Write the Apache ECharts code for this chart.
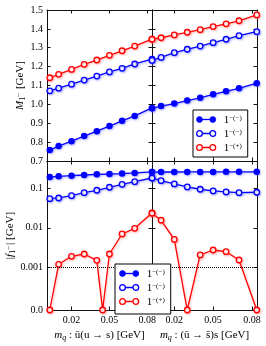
<!DOCTYPE html>
<html><head><meta charset="utf-8">
<script src="https://cdn.jsdelivr.net/npm/echarts@6/dist/echarts.min.js"></script>
<style>html,body{margin:0;padding:0;background:#fff}#c{width:266px;height:346px}</style>
</head><body><div id="c"></div>
<script>
// ---- data ----
const xVals = [0.0028, 0.0098, 0.02, 0.03, 0.04, 0.05, 0.06, 0.07, 0.0837];
const xValsPlusLeftBottom = [0.0028, 0.0098, 0.02, 0.03, 0.04, 0.0446, 0.05, 0.06, 0.07, 0.0837];
const xTicks = [0.02, 0.05, 0.08];
const massTicks = [0.7, 0.8, 0.9, 1.0, 1.1, 1.2, 1.3, 1.4, 1.5];

const mFilledL = [0.758, 0.779, 0.805, 0.832, 0.858, 0.885, 0.913, 0.939, 0.981];
const mOpenL   = [1.072, 1.086, 1.107, 1.129, 1.150, 1.172, 1.191, 1.214, 1.240];
const mPlusL   = [1.141, 1.159, 1.185, 1.212, 1.235, 1.260, 1.284, 1.309, 1.346];
const mFilledR = [0.979, 0.991, 1.004, 1.020, 1.035, 1.053, 1.069, 1.085, 1.112];
const mOpenR   = [1.233, 1.249, 1.274, 1.292, 1.309, 1.327, 1.345, 1.364, 1.385];
const mPlusR   = [1.345, 1.353, 1.368, 1.382, 1.396, 1.412, 1.427, 1.443, 1.474];

const fFilledL = [0.193, 0.201, 0.208, 0.217, 0.226, 0.230, 0.235, 0.244, 0.259];
const fOpenL   = [0.0546, 0.0568, 0.0650, 0.0774, 0.089, 0.106, 0.126, 0.147, 0.182];
const fPlusL   = [0, 0.00119, 0.0019, 0.00217, 0.0015, 0, 0.00217, 0.00697, 0.00971, 0.0237];
const fFilledR = [0.257, 0.258, 0.258, 0.259, 0.259, 0.259, 0.260, 0.260, 0.260];
const fOpenR   = [0.182, 0.156, 0.129, 0.108, 0.0944, 0.0855, 0.0806, 0.0774, 0.0792];
const fPlusR   = [0.0233, 0.0155, 0.00506, 0, 0.00205, 0.00274, 0.00248, 0.00153, 0];

const fTickVals = [0, 0.001, 0.01, 0.1];
const fTickLabels = ['0.0', '0.001', '0.01', '0.1'];
const refLine = [0.001];

// symlog transform (linear below threshold)
const LINTHRESH = 0.001, LINSPAN = 1.081;
function sym(v) { return v <= LINTHRESH ? v / LINTHRESH * LINSPAN : LINSPAN + Math.log10(v / LINTHRESH); }
const fMax = sym(0.49);

const FONT = 'Liberation Serif';
const BLUE = '#0000ff', RED = '#ff0000';
const xRangeL = [0.0006, 0.0837], xRangeR = [0.0028, 0.0839];

const grids = [
  {left: 47, top: 10, width: 105, height: 151},
  {left: 152, top: 10, width: 105, height: 151},
  {left: 47, top: 161, width: 105, height: 149},
  {left: 152, top: 161, width: 105, height: 149}
];

const axLine = {show: true, onZero: false, lineStyle: {color: '#111', width: 1}};
const tick = (vals) => Object.assign({show: true, inside: true, length: 3.5, lineStyle: {color: '#111', width: 1}}, vals ? {customValues: vals} : {});
const richBase = {
  i: {fontFamily: FONT, fontStyle: 'italic', fontSize: 11, color: '#000'},
  r: {fontFamily: FONT, fontSize: 11, color: '#000'},
  sub: {fontFamily: FONT, fontSize: 8, color: '#000', padding: [5, 0, 0, 0]},
  subi: {fontFamily: FONT, fontStyle: 'italic', fontSize: 8, color: '#000', padding: [5, 0, 0, 0]},
  subsup: {fontFamily: FONT, fontSize: 7, color: '#000', padding: [0, 1, 2, 0]}
};

function xAxisPair(grid, range, labels, name) {
  const main = {
    type: 'value', gridIndex: grid, min: range[0], max: range[1], position: 'bottom',
    axisLine: axLine, axisTick: tick(xTicks), splitLine: {show: false},
    axisLabel: labels ? {show: true, customValues: xTicks, margin: 5, fontFamily: FONT, fontSize: 10, color: '#000', formatter: v => v.toFixed(2)} : {show: false}
  };
  if (name) {
    main.name = name; main.nameLocation = 'middle'; main.nameGap = 19;
    main.nameTextStyle = {rich: richBase, fontFamily: FONT, fontSize: 11, color: '#000'};
  }
  const top = {type: 'value', gridIndex: grid, min: range[0], max: range[1], position: 'top',
    axisLine: axLine, axisTick: tick(xTicks), axisLabel: {show: false}, splitLine: {show: false}};
  return [main, top];
}

function yAxisPair(grid, kind, labels, name) {
  let base;
  if (kind === 'm') {
    base = {min: 0.7, max: 1.5, interval: 0.1};
  } else {
    base = {min: 0, max: fMax};
  }
  const tv = kind === 'f' ? fTickVals.map(sym) : null;
  const left = Object.assign({type: 'value', gridIndex: grid, position: 'left',
    axisLine: axLine, axisTick: tick(tv), splitLine: {show: false},
    axisLabel: labels ? Object.assign({show: true, margin: 4, fontFamily: FONT, fontSize: 10, color: '#000',
      formatter: kind === 'm' ? (v => v.toFixed(1)) : (v => { let k = tv.findIndex(t => Math.abs(t - v) < 1e-6); return k >= 0 ? fTickLabels[k] : ''; })},
      tv ? {customValues: tv} : {}) : {show: false}}, base);
  if (name) {
    left.name = name; left.nameLocation = 'middle'; left.nameGap = 20; left.nameRotate = 90;
    left.nameTextStyle = {rich: richBase, fontFamily: FONT, fontSize: 11, color: '#000'};
  }
  const right = Object.assign({type: 'value', gridIndex: grid, position: 'right',
    axisLine: axLine, axisTick: tick(tv), axisLabel: {show: false}, splitLine: {show: false}}, base);
  return [left, right];
}

const xAxes = [].concat(
  xAxisPair(0, xRangeL, false),
  xAxisPair(1, xRangeR, false),
  xAxisPair(2, xRangeL, true, '{i|m}{subi|q}{r| : ū(u → s) [GeV]}'),
  xAxisPair(3, xRangeR, true, '{i|m}{subi|q}{r| : (ū → s̄)s [GeV]}')
);
const yAxes = [].concat(
  yAxisPair(0, 'm', true, '{i|M}{sub|1}{subsup|−}{r| [GeV]}'),
  yAxisPair(1, 'm', false),
  yAxisPair(2, 'f', true, '{r||}{i|f}{sub|1}{subsup|−}{r|| [GeV]}'),
  yAxisPair(3, 'f', false)
);

function ser(name, xs, ys, grid, open, color, tf) {
  const shadow = color === BLUE ? 'rgba(90,90,255,0.45)' : 'rgba(255,90,90,0.4)';
  const s = {
    name: name, type: 'line', xAxisIndex: grid * 2, yAxisIndex: grid * 2,
    data: xs.map((x, i) => [x, tf ? tf(ys[i]) : ys[i]]),
    symbol: 'circle', symbolSize: open ? 5.5 : 6.5, clip: false,
    lineStyle: {color: color, width: 1.3, shadowColor: shadow, shadowBlur: 2, shadowOffsetX: 1, shadowOffsetY: 1},
    itemStyle: open ? {color: '#fff', borderColor: color, borderWidth: 1.3, shadowColor: shadow, shadowBlur: 2, shadowOffsetX: 1, shadowOffsetY: 1}
                    : {color: color, shadowColor: shadow, shadowBlur: 2, shadowOffsetX: 1, shadowOffsetY: 1},
    emphasis: {disabled: true}, animation: false, z: color === RED ? 3 : 2
  };
  return s;
}

const dotted = {silent: true, symbol: ['none', 'none'], label: {show: false},
  lineStyle: {type: 'dotted', color: '#000', width: 1, shadowBlur: 0, shadowColor: 'transparent'},
  data: refLine.map(v => ({yAxis: sym(v)})), animation: false};

const series = [
  ser('F', xVals, mFilledL, 0, false, BLUE),
  ser('O', xVals, mOpenL, 0, true, BLUE),
  ser('P', xVals, mPlusL, 0, true, RED),
  ser('F', xVals, mFilledR, 1, false, BLUE),
  ser('O', xVals, mOpenR, 1, true, BLUE),
  ser('P', xVals, mPlusR, 1, true, RED),
  ser('F', xVals, fFilledL, 2, false, BLUE, sym),
  ser('O', xVals, fOpenL, 2, true, BLUE, sym),
  ser('P', xValsPlusLeftBottom, fPlusL, 2, true, RED, sym),
  ser('F', xVals, fFilledR, 3, false, BLUE, sym),
  ser('O', xVals, fOpenR, 3, true, BLUE, sym),
  ser('P', xVals, fPlusR, 3, true, RED, sym)
];
series[6].markLine = dotted;
series[9].markLine = JSON.parse(JSON.stringify(dotted));

const ICON = 'path://M0,6a6,6 0 1,0 12,0a6,6 0 1,0 -12,0zM12,5.7h16v0.6h-16zM28,6a6,6 0 1,0 12,0a6,6 0 1,0 -12,0z';
const legendNames = {F: '{n|1}{s|−(−)}', O: '{n|1}{s|−(−)}', P: '{n|1}{s|−(+)}'};
const legendData = [
  {name: 'F', itemStyle: {color: BLUE, borderColor: BLUE, borderWidth: 1}},
  {name: 'O', itemStyle: {color: '#fff', borderColor: BLUE, borderWidth: 1.3}},
  {name: 'P', itemStyle: {color: '#fff', borderColor: RED, borderWidth: 1.3}}
];
function legend(left, top, pad) {
  return {
    left: left, top: top, orient: 'vertical', padding: pad, itemGap: 1,
    backgroundColor: '#fff', borderColor: '#000', borderWidth: 1, borderRadius: 0,
    itemWidth: 19, itemHeight: 6, icon: ICON, selectedMode: false,
    data: legendData, formatter: n => legendNames[n], z: 10,
    textStyle: {fontFamily: FONT, fontSize: 10, color: '#000', padding: [0, 0, 0, 3],
      rich: {n: {fontFamily: FONT, fontSize: 11, color: '#000', lineHeight: 11, padding: [2, 0, 0, 0]},
             s: {fontFamily: FONT, fontSize: 7, color: '#000', lineHeight: 8, padding: [0, 0, 2, 0]}}}
  };
}

const chart = echarts.init(document.getElementById('c'), null, {renderer: 'canvas'});
chart.setOption({
  animation: false,
  backgroundColor: '#fff',
  grid: grids,
  xAxis: xAxes,
  yAxis: yAxes,
  legend: [legend(193, 110, [3, 6, 3, 3]), legend(115, 264, [3, 6, 6, 4])],
  series: series
});
</script></body></html>
